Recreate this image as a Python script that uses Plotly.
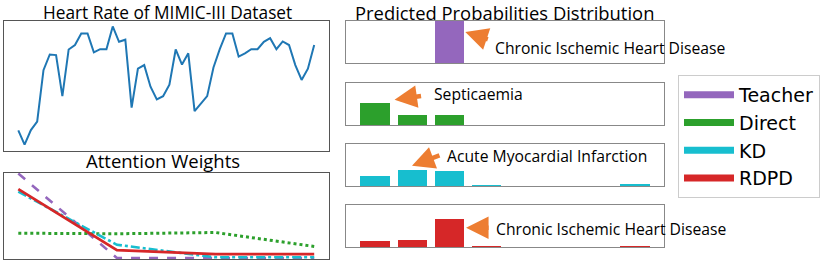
import plotly.graph_objects as go

# ---------------- data ----------------
heart_rate = [64.8, 60.0, 64.9, 67.8, 85.2, 90.5, 90.3, 76.4, 92.2, 93.7,
              97.6, 97.6, 91.2, 92.3, 92.3, 100.0, 94.8, 95.5, 72.5, 85.7,
              86.9, 79.6, 75.3, 76.4, 80.3, 92.2, 87.1, 90.9, 71.3, 73.9,
              76.4, 86.1, 92.3, 97.6, 97.6, 89.8, 90.9, 92.3, 92.3, 94.8,
              96.0, 92.3, 94.9, 93.7, 86.9, 81.9, 85.7, 93.7]
time_steps = list(range(len(heart_rate)))

att_steps = [0, 1, 2, 3]
att_teacher = [0.60, 0.0, 0.0, 0.0]
att_direct = [0.176, 0.172, 0.181, 0.082]
att_kd = [0.471, 0.094, 0.005, 0.005]
att_rdpd = [0.489, 0.056, 0.028, 0.028]

classes = list(range(8))
prob_teacher = [0.0, 0.0, 1.0, 0.0, 0.0, 0.0, 0.0, 0.0]
prob_direct = [0.53, 0.244, 0.228, 0.0, 0.0, 0.0, 0.0, 0.0]
prob_kd = [0.23, 0.39, 0.35, 0.02, 0.0, 0.0, 0.0, 0.05]
prob_rdpd = [0.135, 0.16, 0.675, 0.015, 0.0, 0.0, 0.0, 0.02]

series_names = ["Teacher", "Direct", "KD", "RDPD"]
series_colors = ["#9467bd", "#2ca02c", "#17becf", "#d62728"]

labels = ["Chronic Ischemic Heart Disease", "Septicaemia",
          "Acute Myocardial Infarction", "Chronic Ischemic Heart Disease"]
# arrow head (data coords), text anchor (data coords), arrow tail offset (px)
arrow_heads = [(2.43, 0.74), (0.52, 0.60), (0.99, 0.48), (2.45, 0.46)]
text_pos = [(3.18, 0.36), (1.52, 0.74), (1.89, 0.71), (3.20, 0.43)]
arrow_tails = [(24, 8), (28, -4), (29, -11), (24, 0)]

W, H = 831, 263
TXT = "Open Sans, Lato, sans-serif"

def px_x(a, b):
    return [a / W, b / W]

def px_y(top, bot):
    return [1 - bot / H, 1 - top / H]

fig = go.Figure()

# heart rate
fig.add_trace(go.Scatter(x=time_steps, y=heart_rate, mode="lines",
                         line=dict(color="#1f77b4", width=2),
                         showlegend=False, xaxis="x", yaxis="y"))

# attention
att_vals = [att_teacher, att_direct, att_kd, att_rdpd]
att_dash = ["dash", "dot", "dashdot", "solid"]
att_width = [2.6, 3.0, 2.6, 2.8]
for vals, col, dsh, lw in zip(att_vals, series_colors, att_dash, att_width):
    fig.add_trace(go.Scatter(x=att_steps, y=vals, mode="lines",
                             line=dict(color=col, width=lw, dash=dsh),
                             showlegend=False, xaxis="x2", yaxis="y2"))

# probability bars
probs = [prob_teacher, prob_direct, prob_kd, prob_rdpd]
for i, (vals, col) in enumerate(zip(probs, series_colors)):
    n = i + 3
    fig.add_trace(go.Bar(x=classes, y=vals, width=0.8,
                         marker=dict(color=col, line=dict(width=0)),
                         showlegend=False, xaxis=f"x{n}", yaxis=f"y{n}"))

# legend entries
for name, col in zip(series_names, series_colors):
    fig.add_trace(go.Scatter(x=[None], y=[None], mode="lines", name=name,
                             line=dict(color=col, width=7),
                             xaxis="x", yaxis="y"))

ax_common = dict(showticklabels=False, showgrid=False, zeroline=False,
                 showline=True, mirror=True, ticks="")

lay = dict(
    width=W, height=H, margin=dict(l=0, r=0, t=0, b=0),
    paper_bgcolor="white", plot_bgcolor="white", bargap=0,
    xaxis=dict(domain=px_x(3.5, 329), range=[-2.35, 49.35], anchor="y",
               linecolor="#555", linewidth=1, **ax_common),
    yaxis=dict(domain=px_y(20.5, 150.5), range=[58, 102], anchor="x",
               linecolor="#555", linewidth=1, **ax_common),
    xaxis2=dict(domain=px_x(3.5, 329), range=[-0.15, 3.15], anchor="y2",
                linecolor="#555", linewidth=1, **ax_common),
    yaxis2=dict(domain=px_y(172.5, 259), range=[-0.007, 0.607], anchor="x2",
                linecolor="#555", linewidth=1, **ax_common),
)
panel_y = [(21, 63), (83, 125), (144, 186), (205, 247)]
for i, (t, b) in enumerate(panel_y):
    n = i + 3
    lay[f"xaxis{n}"] = dict(domain=px_x(346, 664), range=[-0.79, 7.79],
                            anchor=f"y{n}", linecolor="#888", linewidth=1,
                            **ax_common)
    lay[f"yaxis{n}"] = dict(domain=px_y(t, b), range=[0, 1],
                            anchor=f"x{n}", linecolor="#888", linewidth=1,
                            **ax_common)

lay["legend"] = dict(x=678 / W, y=1 - 75 / H, xanchor="left", yanchor="top",
                     bgcolor="white", bordercolor="#cccccc", borderwidth=1,
                     font=dict(family="DejaVu Sans", size=19, color="black"),
                     itemwidth=50, tracegroupgap=0)

annotations = []
titles = [("Heart Rate of MIMIC-III Dataset", 167.5, 12.5, 17.3),
          ("Attention Weights", 162.5, 160, 18.5),
          ("Predicted Probabilities Distribution", 504.5, 12.5, 18.4)]
for txt, cx, cy, fs in titles:
    annotations.append(dict(text=txt, x=cx / W, y=1 - cy / H, xref="paper",
                            yref="paper", showarrow=False, xanchor="center",
                            yanchor="middle", borderpad=0,
                            font=dict(family=TXT, size=fs, color="black")))

for i in range(4):
    n = i + 3
    hx, hy = arrow_heads[i]
    tx, ty = text_pos[i]
    ax_, ay_ = arrow_tails[i]
    annotations.append(dict(text="", x=hx, y=hy, xref=f"x{n}", yref=f"y{n}",
                            showarrow=True, ax=ax_, ay=ay_, arrowhead=2,
                            arrowsize=1.0, arrowwidth=4.5,
                            arrowcolor="#ED7D31", standoff=0))
    annotations.append(dict(text=labels[i], x=tx, y=ty, xref=f"x{n}",
                            yref=f"y{n}", showarrow=False, xanchor="left",
                            yanchor="middle",
                            font=dict(family=TXT, size=15.7, color="black")))
lay["annotations"] = annotations

fig.update_layout(**lay)
fig.write_html("out.html",
               config={"displayModeBar": False},
               post_script="document.body.style.margin='0px';")
